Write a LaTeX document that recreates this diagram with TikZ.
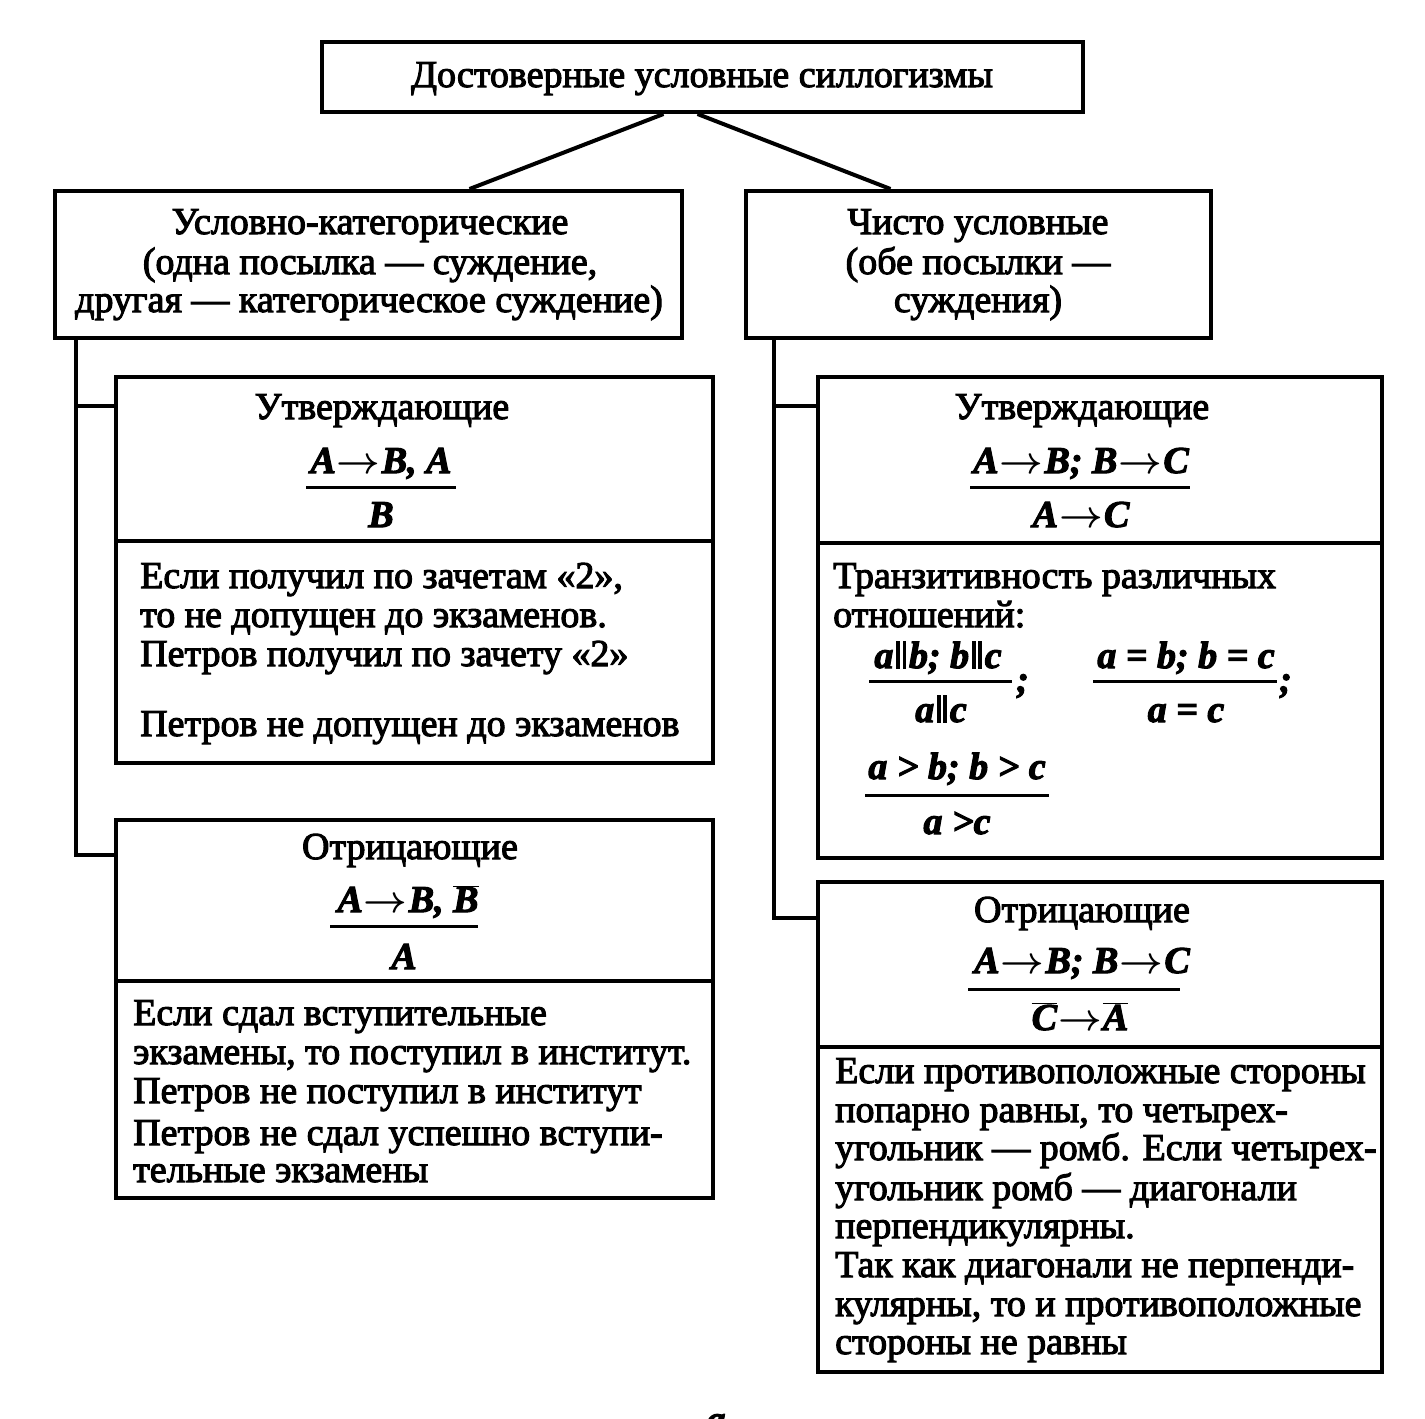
\RequirePackage{fix-cm}
\documentclass[tikz,border=0pt]{standalone}
\usepackage{fontspec}
\setmainfont{Liberation Serif}[FakeBold=2.8]
\usetikzlibrary{calc}
\newcommand{\parl}{\kern0.08em\rule[-0.02em]{0.09em}{0.74em}\kern0.07em\rule[-0.02em]{0.09em}{0.74em}\kern0.08em}
\newcommand{\ovl}[1]{$\overline{\hbox{#1}}$}
\newcommand{\arr}{\kern0.03em{\boldmath$\rightarrow$}\kern0.03em}
\begin{document}
\begin{tikzpicture}[x=1pt,y=-1pt,
  box/.style={draw,line width=4pt,inner sep=0pt},
  conn/.style={line width=4pt},
  fracline/.style={line width=3pt},
  txt/.style={inner sep=0pt,font=\fontsize{38}{39}\selectfont},
  mth/.style={inner sep=0pt,font=\fontsize{38}{39}\selectfont\bfseries\itshape}]
\useasboundingbox (0,0) rectangle (1425,1419);
\clip (0,0) rectangle (1425,1419);
\fill[white] (0,0) rectangle (1425,1419);
% boxes
\node[box,minimum width=761pt,minimum height=70pt] (top) at (702.5,77) {};
\node[box,minimum width=627pt,minimum height=147pt] (L) at (368.5,264.5) {};
\node[box,minimum width=465pt,minimum height=147pt] (R) at (978.5,264.5) {};
\node[box,minimum width=597pt,minimum height=386pt] (LA) at (414.5,570) {};
\node[box,minimum width=597pt,minimum height=378pt] (LB) at (414.5,1009) {};
\node[box,minimum width=564pt,minimum height=481pt] (RA) at (1100,617.5) {};
\node[box,minimum width=564pt,minimum height=490pt] (RB) at (1100,1127) {};
% dividers
\draw[conn] (LA.west |- 0,541) -- (LA.east |- 0,541);
\draw[conn] (LB.west |- 0,981) -- (LB.east |- 0,981);
\draw[conn] (RA.west |- 0,543) -- (RA.east |- 0,543);
\draw[conn] (RB.west |- 0,1047) -- (RB.east |- 0,1047);
% connectors
\draw[conn] ([xshift=-39pt]top.south) -- ([xshift=101pt]L.north);
\draw[conn] ([xshift=-5pt]top.south) -- ([xshift=-88pt]R.north);
\coordinate (lt) at ([xshift=23pt]L.south west);
\coordinate (rt) at ([xshift=30pt]R.south west);
\draw[conn] (lt) |- ([yshift=-31pt]LA.north west);
\draw[conn] (lt) |- ([yshift=-37pt]LB.north west);
\draw[conn] (rt) |- ([yshift=-31pt]RA.north west);
\draw[conn] (rt) |- ([yshift=-38pt]RB.north west);
% top texts
\node[txt,anchor=base] (t0) at (702,87) {Достоверные условные силлогизмы};
\node[txt,anchor=base] (l1) at (370,234) {Условно-категорические};
\node[txt,anchor=base] (l2) at (370,274) {(одна посылка — суждение,};
\node[txt,anchor=base] (l3) at (369,312) {другая — категорическое суждение)};
\node[txt,anchor=base] (r1) at (978,234) {Чисто условные};
\node[txt,anchor=base] (r2) at (978,274) {(обе посылки —};
\node[txt,anchor=base] (r3) at (978,312) {суждения)};
% left A
\node[txt,anchor=base] (la0) at (382,419) {Утверждающие};
\node[mth,anchor=base] (la1) at (381,473) {A\arr B, A};
\draw[fracline] (306,487) -- (456,487);
\node[mth,anchor=base] (la2) at (381,527) {B};
\node[txt,anchor=base west] (la3) at (140,588) {Если получил по зачетам «2»,};
\node[txt,anchor=base west] (la4) at (140,627) {то не допущен до экзаменов.};
\node[txt,anchor=base west] (la5) at (140,666) {Петров получил по зачету «2»};
\node[txt,anchor=base west] (la6) at (140,736) {Петров не допущен до экзаменов};
% left B
\node[txt,anchor=base] (lb0) at (410,859) {Отрицающие};
\node[mth,anchor=base] (lb1) at (408,912) {A\arr B, \ovl{B}};
\draw[fracline] (330,926) -- (478,926);
\node[mth,anchor=base] (lb2) at (404,969) {A};
\node[txt,anchor=base west] (lb3) at (133,1025) {Если сдал вступительные};
\node[txt,anchor=base west] (lb4) at (133,1064) {экзамены, то поступил в институт.};
\node[txt,anchor=base west] (lb5) at (133,1103) {Петров не поступил в институт};
\node[txt,anchor=base west] (lb6) at (133,1145) {Петров не сдал успешно вступи-};
\node[txt,anchor=base west] (lb7) at (133,1182) {тельные экзамены};
% right A
\node[txt,anchor=base] (ra0) at (1082,419) {Утверждающие};
\node[mth,anchor=base] (ra1) at (1081,473) {A\arr B; B\arr C};
\draw[fracline] (970,487) -- (1190,487);
\node[mth,anchor=base] (ra2) at (1081,527) {A\arr C};
\node[txt,anchor=base west] (ra3) at (833,588) {Транзитивность различных};
\node[txt,anchor=base west] (ra4) at (833,627) {отношений:};
\node[mth,anchor=base] (f1a) at (938,668) {a\parl b; b\parl c};
\draw[fracline] (869,681) -- (1012,681);
\node[mth,anchor=base] (f1b) at (941,722) {a\parl c};
\node[mth,anchor=base west] (f1s) at (1016,692) {;};
\node[mth,anchor=base] (f2a) at (1186,668) {a = b; b = c};
\draw[fracline] (1093,681) -- (1277,681);
\node[mth,anchor=base] (f2b) at (1186,722) {a = c};
\node[mth,anchor=base west] (f2s) at (1279,692) {;};
\node[mth,anchor=base] (f3a) at (957,779) {a > b; b > c};
\draw[fracline] (865,795) -- (1049,795);
\node[mth,anchor=base] (f3b) at (957,834) {a >c};
% right B
\node[txt,anchor=base] (rb0) at (1082,922) {Отрицающие};
\node[mth,anchor=base] (rb1) at (1082,973) {A\arr B; B\arr C};
\draw[fracline] (968,989) -- (1180,989);
\node[mth,anchor=base] (rb2) at (1080,1030) {\ovl{C}\arr\ovl{A}};
\node[txt,anchor=base west] (rb3) at (835,1083) {Если противоположные стороны};
\node[txt,anchor=base west] (rb4) at (835,1122) {попарно равны, то четырех-};
\node[txt,anchor=base west] (rb5) at (835,1160) {угольник — ромб. Если четырех-};
\node[txt,anchor=base west] (rb6) at (835,1200) {угольник ромб — диагонали};
\node[txt,anchor=base west] (rb7) at (835,1238) {перпендикулярны.};
\node[txt,anchor=base west] (rb8) at (835,1277) {Так как диагонали не перпенди-};
\node[txt,anchor=base west] (rb9) at (835,1316) {кулярны, то и противоположные};
\node[txt,anchor=base west] (rb10) at (835,1354) {стороны не равны};
% partial caption
\node[mth,anchor=base] (cap) at (716,1432) {а};
\end{tikzpicture}
\end{document}
